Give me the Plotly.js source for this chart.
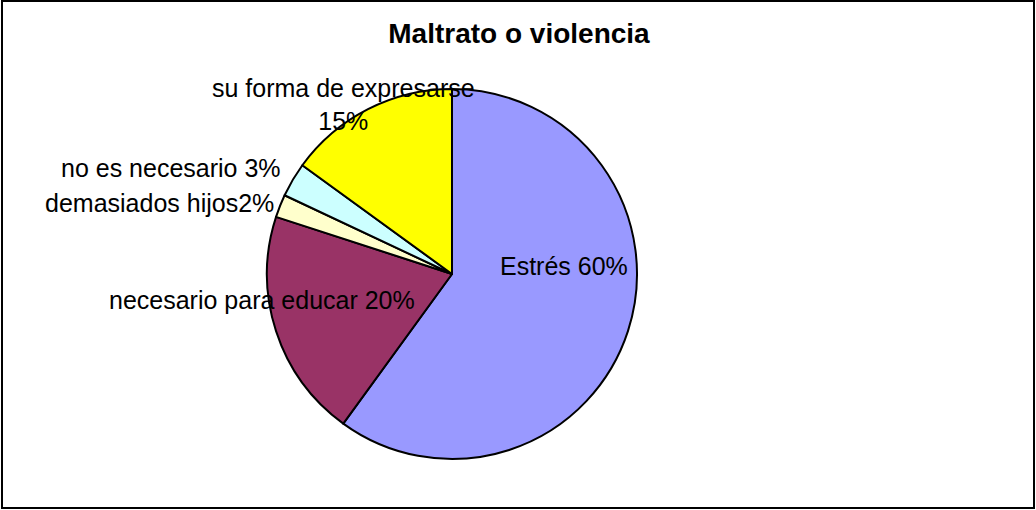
<!DOCTYPE html>
<html>
<head>
<meta charset="utf-8">
<script src="https://cdn.plot.ly/plotly-3.0.1.min.js"></script>
<style>html,body{margin:0;padding:0;background:#fff;}#chart{width:1036px;height:510px;}</style>
</head>
<body>
<div id="chart"></div>
<script>
const titleText = 'Maltrato o violencia';
const categories = ['Estrés', 'necesario para educar', 'demasiados hijos', 'no es necesario', 'su forma de expresarse'];
const values = [60, 20, 2, 3, 15];
const separators = [' ', ' ', '', ' ', '<br>'];
const colors = ['#9999FF', '#993366', '#FFFFCC', '#CCFFFF', '#FFFF00'];

const W = 1036, H = 510;
const px = x => x / W;
const py = y => 1 - y / H;

// pie geometry (pixel centre and radius)
const cx = 452, cy = 274, r = 185;

// label anchor positions (pixels)
const labelPos = [
  {x: 564, y: 266},
  {x: 262, y: 300},
  {x: 159, y: 203},
  {x: 171, y: 168},
  {x: 343, y: 105}
];

const total = values.reduce((a, b) => a + b, 0);
const labelTexts = categories.map((c, i) => c + separators[i] + Math.round(values[i] / total * 100) + '%');

const annotations = labelTexts.map((t, i) => ({
  text: t, xref: 'paper', yref: 'paper',
  x: px(labelPos[i].x), y: py(labelPos[i].y),
  xanchor: 'center', yanchor: 'middle', showarrow: false,
  align: 'center',
  font: {family: 'Arial, Liberation Sans, sans-serif', size: 25, color: '#000'}
}));

const data = [{
  type: 'pie',
  labels: categories,
  values: values,
  sort: false,
  direction: 'clockwise',
  rotation: 0,
  marker: {colors: colors, line: {color: '#000', width: 2}},
  textinfo: 'none',
  hoverinfo: 'label+percent',
  showlegend: false,
  domain: {x: [px(cx - r), px(cx + r)], y: [py(cy + r), py(cy - r)]}
}];

const layout = {
  width: W, height: H,
  margin: {l: 0, r: 0, t: 0, b: 0},
  paper_bgcolor: '#fff',
  showlegend: false,
  title: {
    text: '<b>' + titleText + '</b>',
    x: px(519), xanchor: 'center',
    y: py(33), yanchor: 'middle',
    font: {family: 'Arial, Liberation Sans, sans-serif', size: 28, color: '#000'}
  },
  annotations: annotations,
  shapes: [{
    type: 'rect', xref: 'paper', yref: 'paper',
    x0: px(2), x1: px(1034), y0: py(508), y1: py(1),
    line: {color: '#000', width: 2}
  }]
};

Plotly.newPlot('chart', data, layout, {displayModeBar: false, staticPlot: true});
</script>
</body>
</html>
